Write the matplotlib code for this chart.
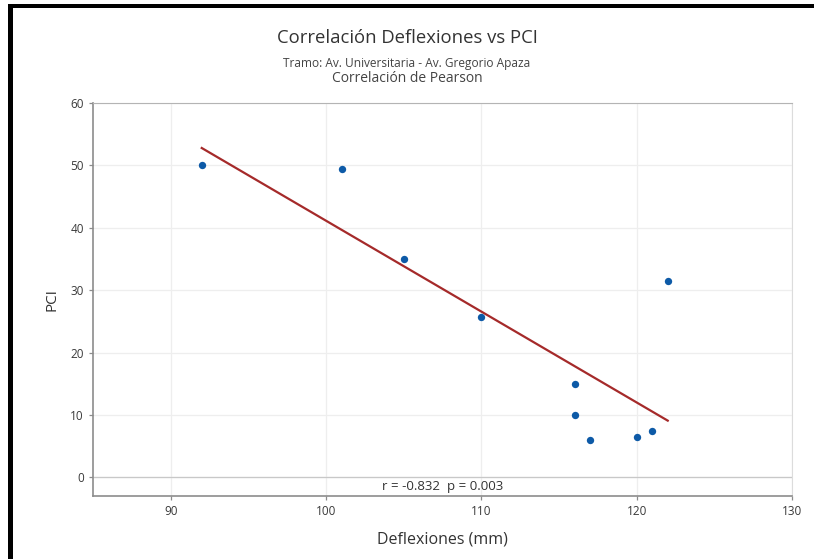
import numpy as np
import matplotlib
matplotlib.use("Agg")
import matplotlib.pyplot as plt

# data: deflexiones (mm) vs PCI
deflexion = [92, 101, 105, 110, 116, 116, 117, 120, 121, 122]
pci = [50.0, 49.4, 35.0, 25.7, 15.0, 10.0, 6.0, 6.5, 7.4, 31.5]
x_ticks = [90, 100, 110, 120, 130]
y_ticks = [0, 10, 20, 30, 40, 50, 60]
stats_text = "r = -0.832  p = 0.003"

plt.rcParams["font.family"] = ["Open Sans", "DejaVu Sans"]

fig = plt.figure(figsize=(8.14, 5.59), dpi=100)
ax = fig.add_axes([93 / 814, 1 - 496 / 559, (792 - 93) / 814, (496 - 103) / 559])

# least squares line over the data range
slope, intercept = np.polyfit(deflexion, pci, 1)
xf = np.array([min(deflexion), max(deflexion)])
ax.plot(xf, slope * xf + intercept, color="#a52a2a", linewidth=1.6, zorder=3)
ax.scatter(deflexion, pci, s=28, color="#0d5aa7", zorder=4, linewidths=0)

ax.set_xlim(85, 130)
ax.set_ylim(-3, 60)
ax.set_xticks(x_ticks)
ax.set_yticks(y_ticks)
ax.grid(True, color="#eeeeee", linewidth=0.9)
ax.set_axisbelow(True)
ax.axhline(0, color="#c8c8c8", linewidth=0.9, zorder=1)

for side in ["left", "bottom"]:
    ax.spines[side].set_color("#8c8c8c")
    ax.spines[side].set_linewidth(1.2)
ax.spines["top"].set_color("#b4b4b4")
ax.spines["right"].set_color("#dcdcdc")
ax.tick_params(axis="both", colors="#8c8c8c", labelcolor="#3a3a3a", labelsize=8.5, length=3, width=0.9)

ax.set_xlabel("Deflexiones (mm)", fontsize=11.5, color="#333333", labelpad=10)
ax.set_ylabel("PCI", fontsize=11, color="#333333", labelpad=8)

ax.text(0.5, 1.5 / 63, stats_text, transform=ax.transAxes, ha="center", va="center",
        fontsize=9.5, color="#333333")

fig.text(0.5, 1 - 38 / 559, "Correlación Deflexiones vs PCI", ha="center", va="center",
         fontsize=13.3, color="#333333")
fig.text(0.5, 1 - 63 / 559, "Tramo: Av. Universitaria - Av. Gregorio Apaza", ha="center", va="center",
         fontsize=8.6, color="#444444")
fig.text(0.5, 1 - 79 / 559, "Correlación de Pearson", ha="center", va="center",
         fontsize=10, color="#444444")

# black frame on top and left of the screenshot
fig.add_artist(plt.Rectangle((8 / 814, 0), 5 / 814, 1 - 4 / 559, transform=fig.transFigure,
                             color="black", lw=0))
fig.add_artist(plt.Rectangle((8 / 814, 1 - 8 / 559), 1, 4 / 559, transform=fig.transFigure,
                             color="black", lw=0))

fig.savefig("out.png", dpi=100)
